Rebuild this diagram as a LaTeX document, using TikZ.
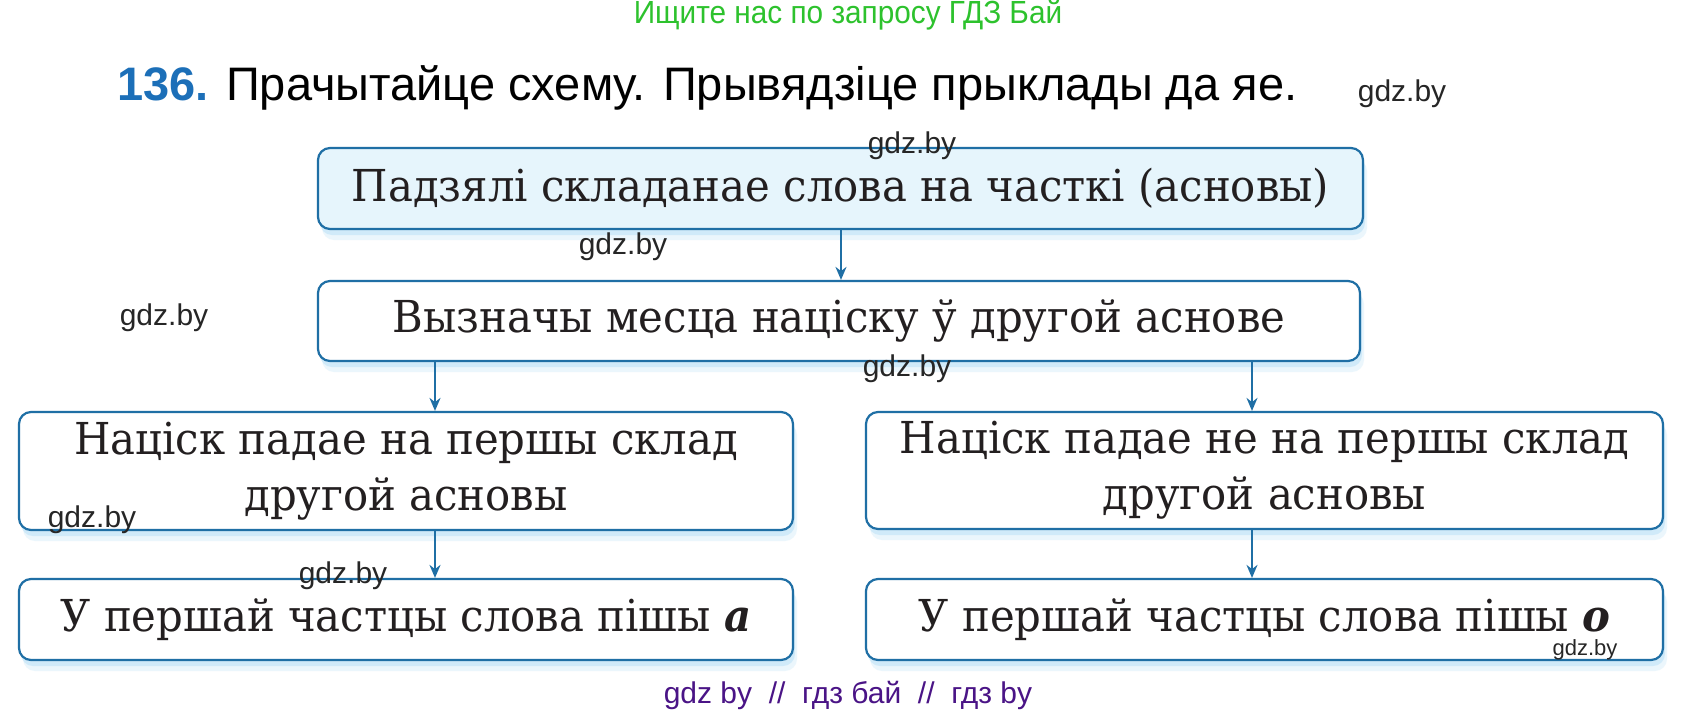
\documentclass[tikz,border=0pt]{standalone}
\usepackage{fontspec}
\setmainfont{DejaVu Serif}
\newfontfamily\boxfont[FakeStretch=0.95]{DejaVu Serif}
\newfontfamily\sansf{Liberation Sans}
\newfontfamily\greenf[FakeStretch=0.93]{Liberation Sans}
\usetikzlibrary{shadows,arrows.meta}
\definecolor{boxline}{HTML}{1F6FA5}
\definecolor{boxfill}{HTML}{E6F5FC}
\definecolor{glow}{HTML}{BFE3F7}
\definecolor{titleblue}{HTML}{1C6FB8}
\definecolor{wmgreen}{HTML}{2DC22D}
\definecolor{wmpurple}{HTML}{4A1486}
\definecolor{txt}{HTML}{231F20}
\tikzset{
  stepbox/.style={draw=boxline, line width=2.2pt, rounded corners=12pt, fill=white,
    align=center, inner sep=0pt, text=txt,
    font=\boxfont\fontsize{44}{56}\selectfont,
    drop shadow={shadow xshift=4pt, shadow yshift=-11pt, fill=glow, opacity=0.3},
    drop shadow={shadow xshift=2pt, shadow yshift=-6pt, fill=glow, opacity=0.6}},
  arr/.style={draw=boxline, line width=2pt, -{Stealth[length=13pt,width=11pt]}},
  wm/.style={font=\sansf\fontsize{30}{30}\selectfont, text=black!85, inner sep=0pt}
}
\begin{document}
\begin{tikzpicture}[x=1pt,y=-1pt]
\useasboundingbox (0,0) rectangle (1697,715);
\fill[white] (0,0) rectangle (1697,715);
% header
\node[font=\greenf\fontsize{32}{32}\selectfont, text=wmgreen, inner sep=0pt] (green) at (848,15) {Ищите нас по запросу ГДЗ Бай};
\node[font=\sansf\fontsize{47}{47}\selectfont, anchor=base west, inner sep=0pt] (title) at (117,100)
  {\textcolor{titleblue}{\bfseries 136.} Прачытайце схему. Прывядзіце прыклады да яе.};
% boxes
\node[stepbox, fill=boxfill, minimum width=1045pt, minimum height=81pt] (b1) at (840.5,188.5)
  {Падзялі складанае слова на часткі (асновы)};
\node[stepbox, minimum width=1042pt, minimum height=80pt] (b2) at (839,321)
  {Вызначы месца націску ў другой аснове};
\node[stepbox, minimum width=774pt, minimum height=118pt] (l3) at (406,471)
  {Націск падае на першы склад\\другой асновы};
\node[stepbox, minimum width=797pt, minimum height=117pt] (r3) at (1264.5,470.5)
  {Націск падае не на першы склад\\другой асновы};
\node[stepbox, minimum width=774pt, minimum height=81pt] (l4) at (406,619.5)
  {У першай частцы слова пішы \textbf{\textit{а}}};
\node[stepbox, minimum width=797pt, minimum height=81pt] (r4) at (1264.5,619.5)
  {У першай частцы слова пішы \textbf{\textit{о}}};
% arrows
\coordinate (al) at (435,0);
\coordinate (ar) at (1252,0);
\coordinate (ac) at (841,0);
\draw[arr] (b1.south -| ac) -- (b2.north -| ac);
\draw[arr] (b2.south -| al) -- (l3.north -| al);
\draw[arr] (b2.south -| ar) -- (r3.north -| ar);
\draw[arr] (l3.south -| al) -- (l4.north -| al);
\draw[arr] (r3.south -| ar) -- (r4.north -| ar);
% watermarks
\node[wm] (w1) at (1402,94) {gdz.by};
\node[wm] (w2) at (912,146) {gdz.by};
\node[wm] (w3) at (623,247) {gdz.by};
\node[wm] (w4) at (164,318) {gdz.by};
\node[wm] (w5) at (907,369) {gdz.by};
\node[wm] (w6) at (92,520) {gdz.by};
\node[wm] (w7) at (343,576) {gdz.by};
\node[wm, font=\sansf\fontsize{22}{22}\selectfont] (w8) at (1585,650) {gdz.by};
\node[font=\sansf\fontsize{30}{30}\selectfont, text=wmpurple, inner sep=0pt] (bottom) at (848,695)
  {gdz by\ \ //\ \ гдз бай\ \ //\ \ гдз by};
\end{tikzpicture}
\end{document}
